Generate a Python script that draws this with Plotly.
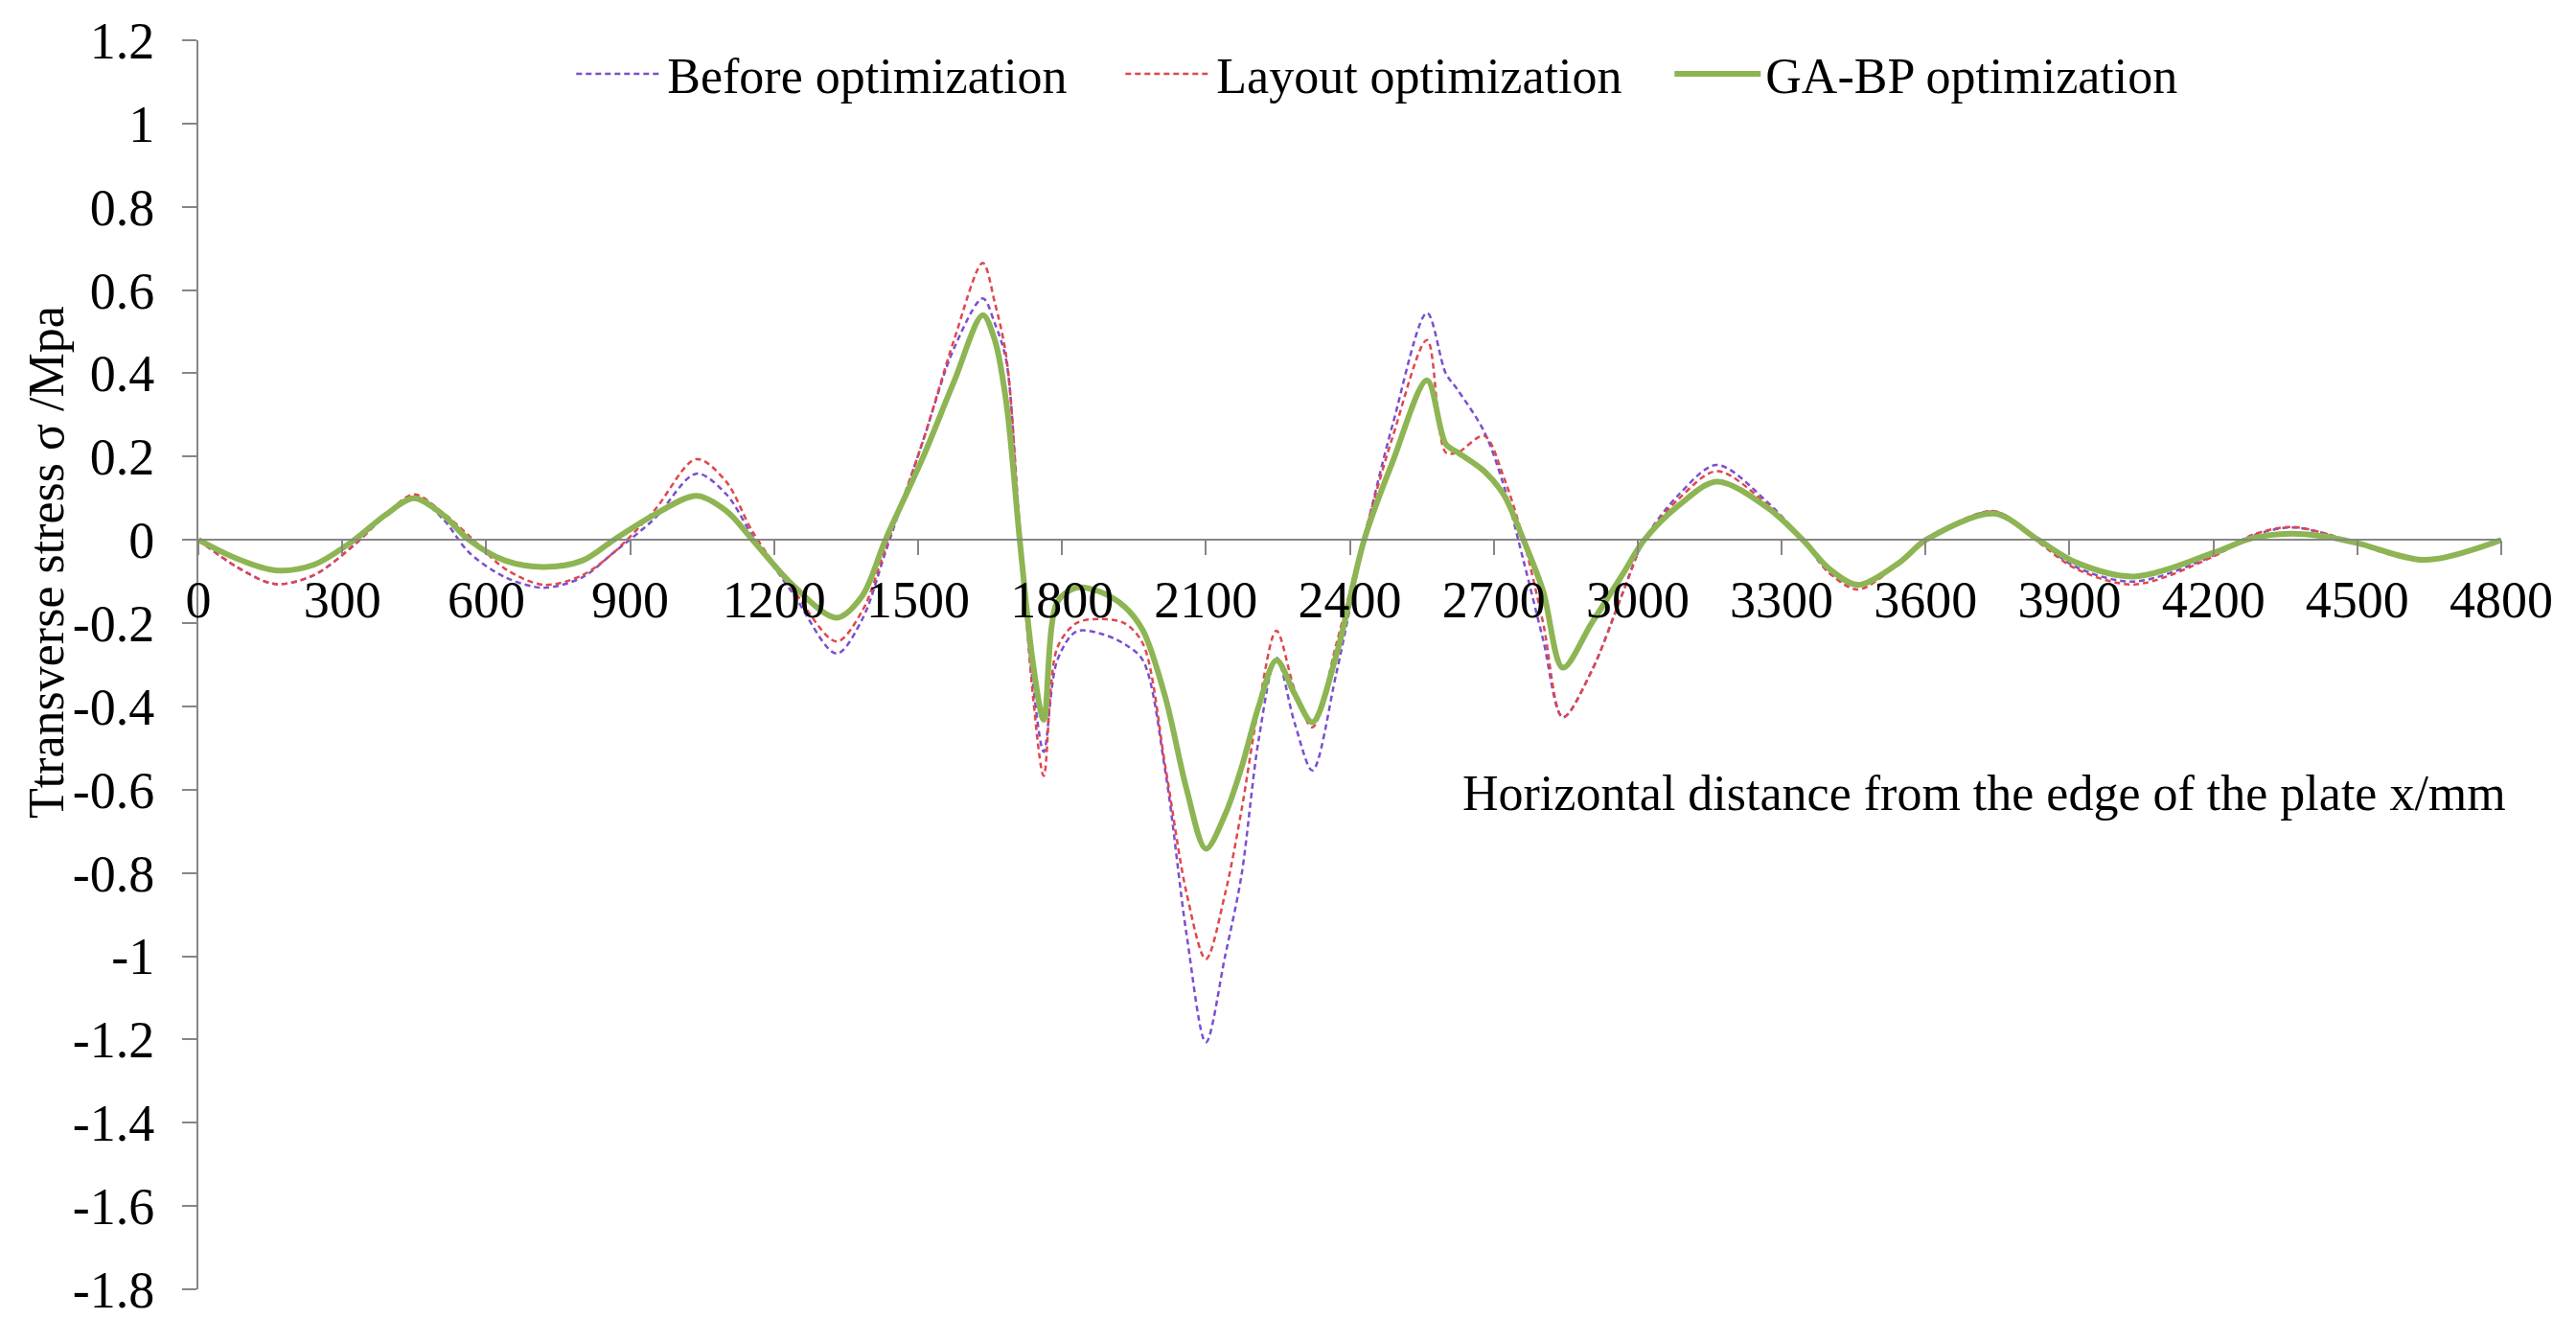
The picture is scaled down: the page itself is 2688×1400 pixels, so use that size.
import plotly.graph_objects as go

# Horizontal distance (mm)
x_mm = [0, 80, 160, 240, 325, 390, 449, 510, 564, 640, 720, 800, 866, 950, 1038, 1100,
        1155, 1240, 1330, 1384, 1432, 1511, 1575, 1635, 1660, 1684, 1712, 1740, 1762, 1790,
        1830, 1880, 1930, 1969, 2016, 2060, 2100, 2140, 2174, 2210, 2247, 2285, 2322, 2372,
        2430, 2490, 2561, 2600, 2625, 2680, 2721, 2762, 2803, 2844, 2904, 2968, 3014, 3087,
        3165, 3271, 3344, 3400, 3459, 3546, 3601, 3743, 3835, 3913, 4035, 4200, 4281, 4361,
        4434, 4504, 4641, 4800]

before_opt = [0, -0.065, -0.106, -0.085, -0.012, 0.058, 0.105, 0.05, -0.03, -0.09, -0.115, -0.09,
              -0.03, 0.05, 0.159, 0.11, 0.01, -0.13, -0.273, -0.19, -0.03, 0.24, 0.46, 0.58, 0.52,
              0.43, 0.0, -0.35, -0.509, -0.29, -0.22, -0.225, -0.25, -0.29, -0.56, -0.95, -1.207,
              -1.0, -0.807, -0.48, -0.283, -0.44, -0.554, -0.32, 0.0, 0.28, 0.545, 0.40, 0.36,
              0.26, 0.13, -0.05, -0.24, -0.426, -0.315, -0.13, 0.0, 0.11, 0.18, 0.09, 0.0, -0.08,
              -0.111, -0.055, 0.0, 0.068, 0.0, -0.065, -0.1, -0.038, 0.01, 0.03, 0.015, -0.01,
              -0.05, 0]

layout_opt = [0, -0.065, -0.106, -0.085, -0.012, 0.06, 0.109, 0.065, 0.01, -0.07, -0.108, -0.085,
              -0.03, 0.07, 0.194, 0.14, 0.02, -0.12, -0.244, -0.17, -0.02, 0.24, 0.48, 0.665, 0.57,
              0.44, 0.03, -0.38, -0.567, -0.26, -0.2, -0.19, -0.2, -0.25, -0.548, -0.85, -1.007,
              -0.85, -0.651, -0.4, -0.218, -0.36, -0.45, -0.25, 0.01, 0.25, 0.48, 0.21, 0.21,
              0.25, 0.15, 0.0, -0.2, -0.426, -0.315, -0.13, 0.0, 0.1, 0.165, 0.084, 0.0, -0.08,
              -0.119, -0.055, 0.0, 0.069, -0.005, -0.069, -0.107, -0.04, 0.012, 0.031, 0.015,
              -0.012, -0.05, 0]

gabp_opt = [0, -0.045, -0.073, -0.06, 0.0, 0.06, 0.10, 0.06, 0.0, -0.05, -0.065, -0.05,
            0.0, 0.06, 0.106, 0.07, 0.0, -0.11, -0.187, -0.134, 0.0, 0.2, 0.38, 0.54, 0.48,
            0.33, 0.0, -0.3, -0.432, -0.15, -0.115, -0.125, -0.16, -0.218, -0.38, -0.6, -0.742,
            -0.66, -0.548, -0.4, -0.289, -0.37, -0.438, -0.276, 0.0, 0.19, 0.383, 0.23, 0.21,
            0.165, 0.108, 0.0, -0.123, -0.307, -0.2, -0.084, 0.0, 0.084, 0.14, 0.077, 0.0, -0.07,
            -0.108, -0.054, 0.0, 0.063, 0.0, -0.054, -0.088, -0.031, 0.004, 0.015, 0.008,
            -0.009, -0.048, 0]

x_ticks = list(range(0, 4801, 300))
y_ticks = [1.2, 1, 0.8, 0.6, 0.4, 0.2, 0, -0.2, -0.4, -0.6, -0.8, -1, -1.2, -1.4, -1.6, -1.8]
y_tick_text = ["1.2", "1", "0.8", "0.6", "0.4", "0.2", "0", "-0.2", "-0.4", "-0.6", "-0.8",
               "-1", "-1.2", "-1.4", "-1.6", "-1.8"]

FONT = "Liberation Serif, Times New Roman, serif"

fig = go.Figure()
fig.add_trace(go.Scatter(x=x_mm, y=before_opt, mode="lines", name="Before optimization",
                         line=dict(color="#7B4FD0", width=2.5, dash="6px,4px", shape="spline",
                                   smoothing=0.9)))
fig.add_trace(go.Scatter(x=x_mm, y=layout_opt, mode="lines", name="Layout optimization",
                         line=dict(color="#E0474C", width=2.5, dash="6px,4px", shape="spline",
                                   smoothing=0.9)))
fig.add_trace(go.Scatter(x=x_mm, y=gabp_opt, mode="lines", name="GA-BP optimization",
                         line=dict(color="#8DB553", width=6, shape="spline", smoothing=0.9)))

axis_color = "#868686"
# page body has an 8px default margin, so the figure is sized/offset to compensate
fig.update_layout(
    width=2680, height=1392, autosize=False,
    margin=dict(l=199, r=78, t=34, b=55, autoexpand=False),
    paper_bgcolor="white", plot_bgcolor="white",
    font=dict(family=FONT, size=52, color="black"),
    showlegend=True,
    legend=dict(orientation="h", x=0.162, y=0.973, xanchor="left", yanchor="middle",
                font=dict(family=FONT, size=52, color="black"),
                bgcolor="rgba(0,0,0,0)", entrywidth=468, entrywidthmode="pixels",
                itemwidth=90),
    xaxis=dict(range=[0, 4800], tickvals=x_ticks, ticktext=[str(v) for v in x_ticks],
               showgrid=False, zeroline=False, showline=True, linecolor=axis_color,
               linewidth=2, ticks="outside", ticklen=15, tickwidth=2, tickcolor=axis_color,
               anchor="free", position=0.6, automargin=False,
               tickfont=dict(family=FONT, size=54, color="black")),
    yaxis=dict(range=[-1.8, 1.2], tickvals=y_ticks, ticktext=y_tick_text, showgrid=False,
               zeroline=False, showline=True, linecolor=axis_color, linewidth=2,
               ticks="outside", ticklen=15, tickwidth=2, tickcolor=axis_color,
               ticklabelstandoff=18, automargin=False,
               tickfont=dict(family=FONT, size=54, color="black")),
    annotations=[
        dict(text="Ttransverse stress σ /Mpa", textangle=-90, xref="paper", yref="paper",
             x=-0.066, y=0.582, xanchor="center", yanchor="middle", showarrow=False,
             font=dict(family=FONT, size=52, color="black")),
        dict(text="Horizontal distance from the edge of the plate x/mm", xref="paper",
             yref="paper", x=1.003, y=0.397, xanchor="right", yanchor="middle",
             showarrow=False, font=dict(family=FONT, size=52, color="black")),
    ],
)

fig.write_html("out.html")
